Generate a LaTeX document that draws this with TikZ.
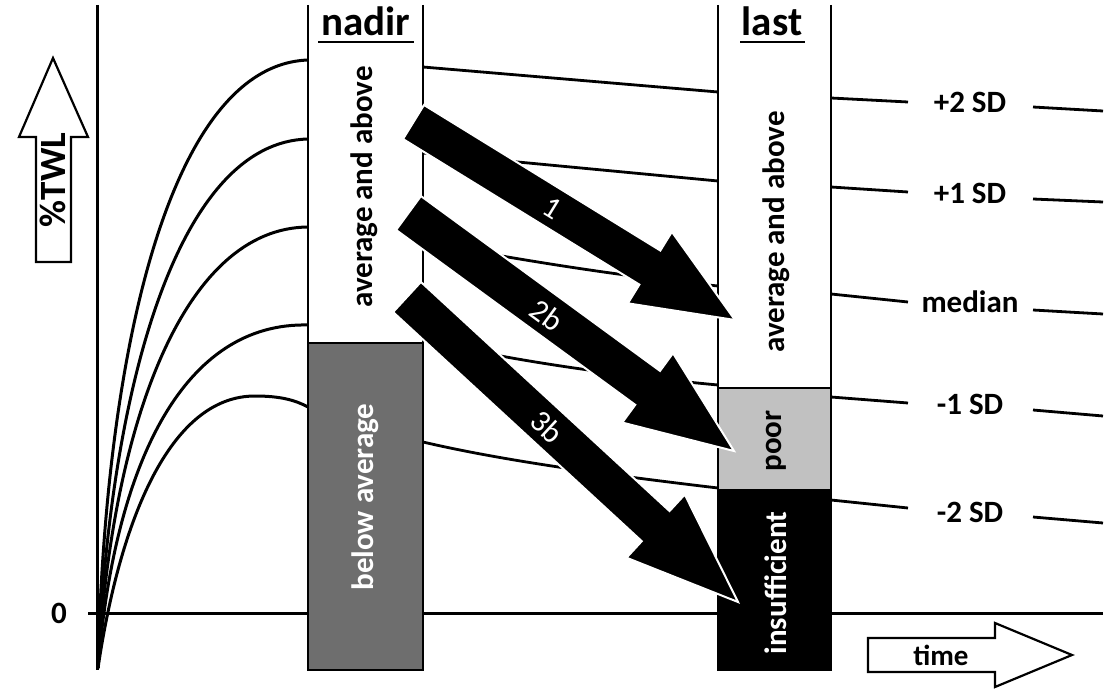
\documentclass[tikz,border=0pt]{standalone}
\usepackage{fontspec}
\setmainfont{Carlito}
\usetikzlibrary{calc}
\definecolor{midgray}{RGB}{110,110,110}
\definecolor{lightgray}{RGB}{193,193,193}
\tikzset{
  axisline/.style={line width=3pt},
  curveline/.style={line width=3pt},
  trendline/.style={line width=2.8pt},
  colline/.style={line width=2.6pt},
  box/.style={draw=black, line width=2.2pt, inner sep=0pt, outer sep=0pt},
  lbl/.style={font=\fontsize{31}{31}\selectfont\bfseries, inner sep=0pt},
  title/.style={font=\fontsize{41}{41}\selectfont\bfseries, inner sep=0pt},
  collbl/.style={lbl, rotate=90},
  bigarrow/.style={fill=black, draw=white, line width=2pt, line join=miter},
  arrlbl/.style={font=\fontsize{31}{31}\selectfont, text=white, inner sep=0pt},
  outlinearrow/.style={draw=black, fill=white, line width=2.2pt, line join=miter},
}
% #1 tail, #2 tip, #3 head length, #4 shaft half width, #5 head half width
\newcommand\fatarrow[5]{%
  \coordinate (#2-b) at ($(#2)!#3!(#1)$);
  \path[bigarrow] ($(#1)!#4!90:(#2)$) -- ($(#2-b)!#4!90:(#2)$) -- ($(#2-b)!#5!90:(#2)$)
    -- (#2) -- ($(#2-b)!#5!-90:(#2)$) -- ($(#2-b)!#4!-90:(#2)$) -- ($(#1)!#4!-90:(#2)$) -- cycle;
}
\begin{document}
\begin{tikzpicture}[x=1pt,y=-1pt]
\useasboundingbox (0,0) rectangle (1115,690);
% axes
\coordinate (ytop) at (97,5);
\coordinate (ybot) at (97,670);
\coordinate (xl) at (88,613);
\coordinate (xr) at (1103,613);
\draw[axisline] (ytop) -- (ybot);
\draw[axisline] (xl) -- (xr);
\node[lbl] (zero) at (59,613) {0};
% growth curves
\coordinate (o) at (98,668);
\draw[curveline] (o) .. controls (105,350) and (170,65) .. (308,60);
\draw[curveline] (o) .. controls (110,380) and (180,142) .. (308,139);
\draw[curveline] (o) .. controls (112,420) and (185,228) .. (308,227);
\draw[curveline] (o) .. controls (115,460) and (185,322) .. (308,325);
\draw[curveline] (o) .. controls (120,520) and (170,396) .. (255,396) .. controls (280,396) and (295,400) .. (308,407);
% lines between nadir and last
\draw[trendline] (423,67) -- (718,92);
\draw[trendline] (423,153) -- (718,181);
\draw[trendline] (423,242) .. controls (500,256) and (600,274) .. (718,286);
\draw[trendline] (423,340) .. controls (500,358) and (600,374) .. (718,385);
\draw[trendline] (423,442) .. controls (500,460) and (600,474) .. (718,488);
% percentile lines right of last
\draw[trendline] (831,98) -- (908,102);  \draw[trendline] (1033,107) -- (1103,111);
\draw[trendline] (831,187) -- (908,192); \draw[trendline] (1033,199) -- (1103,202);
\draw[trendline] (831,294) -- (908,302); \draw[trendline] (1033,310) -- (1103,314);
\draw[trendline] (831,397) -- (908,403); \draw[trendline] (1033,410) -- (1103,416);
\draw[trendline] (831,500) -- (908,508); \draw[trendline] (1033,517) -- (1103,523);
\node[lbl] (p2) at (970,102) {+2 SD};
\node[lbl] (p1) at (970,193) {+1 SD};
\node[lbl] (med) at (970,302) {median};
\node[lbl] (m1) at (970,404) {-1 SD};
\node[lbl] (m2) at (970,512) {-2 SD};
% nadir column
\draw[colline] (308,5) -- (308,343);
\draw[colline] (423,5) -- (423,343);
\node[box, fill=midgray, minimum width=115pt, minimum height=327pt] (nbelow) at (365.5,506.5) {};
\node[collbl] (navg) at (364,187) {average and above};
\node[collbl, text=white] (nbelowt) at (365,497) {below average};
\node[title] (nadir) at (366,21) {nadir};
\draw[line width=2.2pt] (318,42) -- (414,42);
% last column
\draw[colline] (718,5) -- (718,388);
\draw[colline] (831,5) -- (831,388);
\node[box, fill=lightgray, minimum width=113pt, minimum height=102pt] (poor) at (774.5,439) {};
\node[box, fill=black, minimum width=113pt, minimum height=180pt] (insuf) at (774.5,580) {};
\node[collbl] (lavg) at (776,232) {average and above};
\node[collbl] (poort) at (776,441) {poor};
\node[collbl, text=white] (insuft) at (776,583) {insufficient};
\node[title] (last) at (772,21) {last};
\draw[line width=2.2pt] (740,42) -- (805,42);
% transition arrows
\coordinate (a1t) at (413.5,122); \coordinate (a1p) at (735,320);
\coordinate (a2t) at (408.5,213); \coordinate (a2p) at (734,451);
\coordinate (a3t) at (407,297);   \coordinate (a3p) at (738,602);
\fatarrow{a1t}{a1p}{100pt}{20pt}{42pt}
\fatarrow{a2t}{a2p}{107pt}{21pt}{43pt}
\fatarrow{a3t}{a3p}{112pt}{20.5pt}{43pt}
\node[arrlbl, rotate=-31.6] (l1) at (552,208) {1};
\node[arrlbl, rotate=-36.2] (l2) at (547,315) {2b};
\node[arrlbl, rotate=-42.8] (l3) at (547,427) {3b};
% %TWL arrow
\draw[outlinearrow] (36,262) -- (36,137) -- (19,137) -- (53,58) -- (88,137) -- (71,137) -- (71,262) -- cycle;
\node[title, font=\fontsize{37}{37}\selectfont\bfseries, rotate=90] (twl) at (53,180) {\%TWL};
% time arrow
\draw[outlinearrow] (868,638) -- (995,638) -- (995,623) -- (1072,655) -- (995,687) -- (995,672) -- (868,672) -- cycle;
\node[lbl, font=\fontsize{29}{29}\selectfont\bfseries] (time) at (941,655) {time};
\end{tikzpicture}
\end{document}
